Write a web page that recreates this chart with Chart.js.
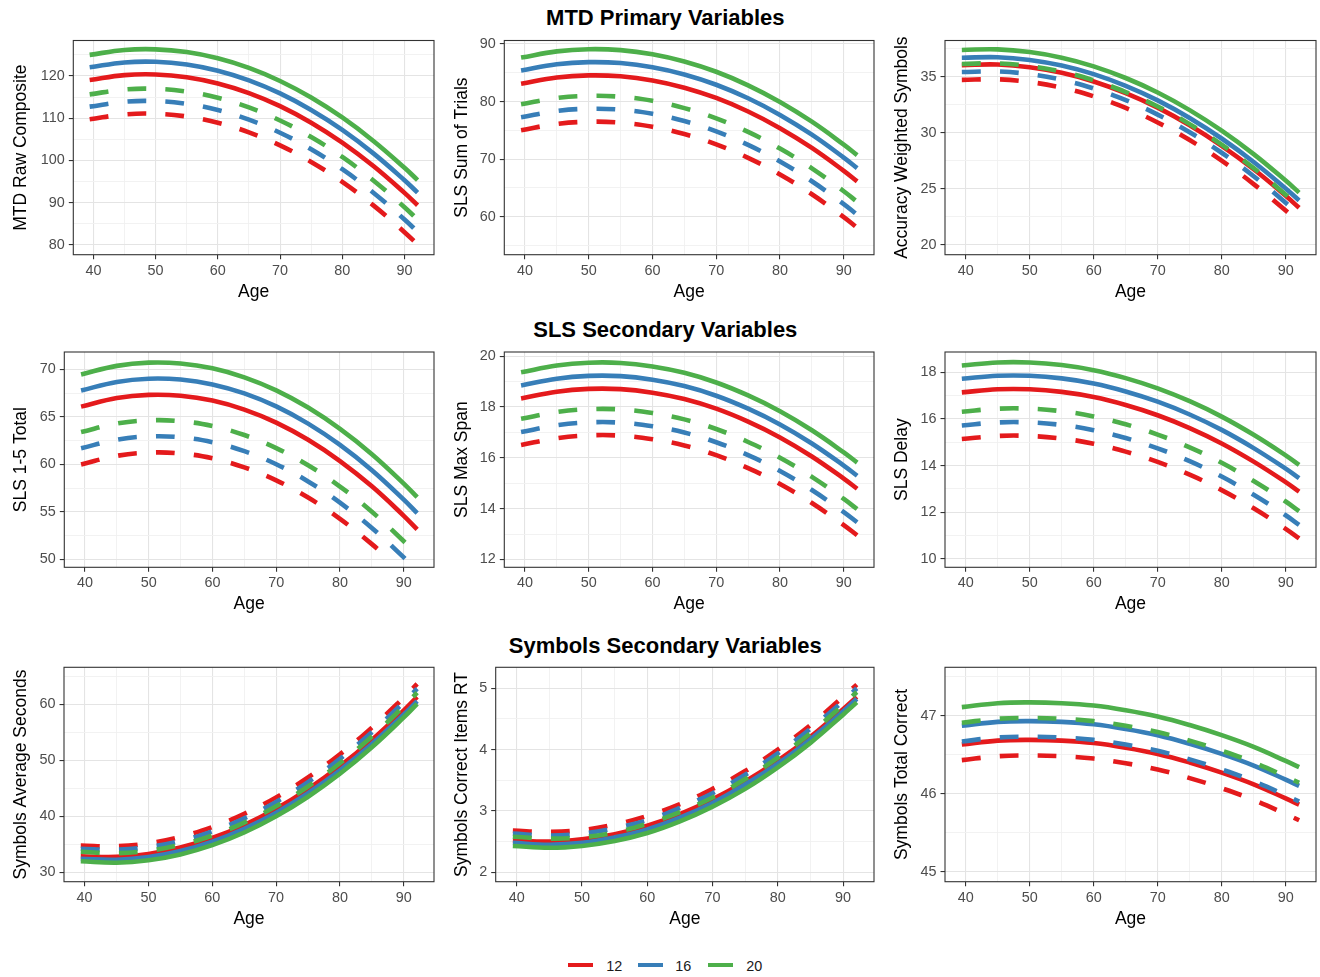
<!DOCTYPE html>
<html>
<head>
<meta charset="utf-8">
<script src="https://cdn.jsdelivr.net/npm/chart.js@4.4.1/dist/chart.umd.min.js"></script>
<style>
html,body{margin:0;padding:0;background:#fff;}
body{width:1320px;height:977px;position:relative;overflow:hidden;font-family:"Liberation Sans",Arial,Helvetica,sans-serif;}
canvas{position:absolute;}
.rowtitle{position:absolute;left:665.3px;transform:translate(-50%,-50%);white-space:nowrap;font-weight:bold;font-size:22px;line-height:22px;color:#000;}
.lkey{position:absolute;height:4.4px;width:25.6px;}
.ltxt{position:absolute;font-size:14.4px;line-height:14.4px;color:#1a1a1a;transform:translateY(-50%);white-space:nowrap;}
</style>
</head>
<body>
<div class="rowtitle" style="top:18.4px">MTD Primary Variables</div>
<div class="rowtitle" style="top:330.4px">SLS Secondary Variables</div>
<div class="rowtitle" style="top:645.7px">Symbols Secondary Variables</div>

<div class="lkey" style="left:567.7px;top:962.5px;background:#E41A1C"></div>
<div class="ltxt" style="left:606.2px;top:965.8px">12</div>
<div class="lkey" style="left:637.7px;top:962.5px;background:#377EB8"></div>
<div class="ltxt" style="left:675.2px;top:965.8px">16</div>
<div class="lkey" style="left:707.7px;top:962.5px;background:#4DAF4A"></div>
<div class="ltxt" style="left:746.2px;top:965.8px">20</div>

<script>
// ---------------- DATA ----------------
const AGES = [39.4, 45, 50, 55, 60, 65, 70, 75, 80, 85, 90, 92.1];
const X_TICKS = [40, 50, 60, 70, 80, 90];
const EDU_GROUPS = ['12', '16', '20'];

// MTD Raw Composite
const MTD_Y_TICKS = [80, 90, 100, 110, 120];
const MTD_12 = [119.05, 120.2, 120.36, 119.71, 118.24, 115.96, 112.87, 108.95, 104.23, 98.68, 92.33, 89.41];
const MTD_16 = [122.05, 123.2, 123.36, 122.71, 121.24, 118.96, 115.87, 111.95, 107.23, 101.68, 95.33, 92.41];
const MTD_20 = [125.0, 126.15, 126.31, 125.66, 124.19, 121.91, 118.82, 114.9, 110.18, 104.63, 98.28, 95.36];
const MTD_12_D = [109.75, 110.9, 111.06, 110.41, 108.94, 106.66, 103.57, 99.65, 94.93, 89.38, 83.03, 80.11];
const MTD_16_D = [112.75, 113.9, 114.06, 113.41, 111.94, 109.66, 106.57, 102.65, 97.93, 92.38, 86.03, 83.11];
const MTD_20_D = [115.65, 116.8, 116.96, 116.31, 114.84, 112.56, 109.47, 105.55, 100.83, 95.28, 88.93, 86.01];

// SLS Sum of Trials
const SUM_Y_TICKS = [60, 70, 80, 90];
const SUM_12 = [83.08, 84.16, 84.54, 84.38, 83.67, 82.41, 80.62, 78.27, 75.38, 71.95, 67.97, 66.14];
const SUM_16 = [85.38, 86.46, 86.84, 86.68, 85.97, 84.71, 82.92, 80.57, 77.68, 74.25, 70.27, 68.44];
const SUM_20 = [87.63, 88.71, 89.09, 88.93, 88.22, 86.96, 85.17, 82.82, 79.93, 76.5, 72.52, 70.69];
const SUM_12_D = [75.03, 76.11, 76.49, 76.33, 75.62, 74.36, 72.57, 70.22, 67.33, 63.9, 59.92, 58.09];
const SUM_16_D = [77.28, 78.36, 78.74, 78.58, 77.87, 76.61, 74.82, 72.47, 69.58, 66.15, 62.17, 60.34];
const SUM_20_D = [79.53, 80.61, 80.99, 80.83, 80.12, 78.86, 77.07, 74.72, 71.83, 68.4, 64.42, 62.59];

// Accuracy Weighted Symbols
const ACC_Y_TICKS = [20, 25, 30, 35];
const ACC_12 = [36.03, 36.08, 35.84, 35.34, 34.57, 33.53, 32.24, 30.67, 28.84, 26.75, 24.39, 23.32];
const ACC_16 = [36.68, 36.73, 36.49, 35.99, 35.22, 34.18, 32.89, 31.32, 29.49, 27.4, 25.04, 23.97];
const ACC_20 = [37.38, 37.43, 37.19, 36.69, 35.92, 34.88, 33.59, 32.02, 30.19, 28.1, 25.74, 24.67];
const ACC_12_D = [34.71, 34.76, 34.52, 34.02, 33.25, 32.21, 30.92, 29.35, 27.52, 25.43, 23.07, 22.0];
const ACC_16_D = [35.41, 35.46, 35.22, 34.72, 33.95, 32.91, 31.62, 30.05, 28.22, 26.13, 23.77, 22.7];
const ACC_20_D = [36.13, 36.18, 35.94, 35.44, 34.67, 33.63, 32.34, 30.77, 28.94, 26.85, 24.49, 23.42];

// SLS 1-5 Total (dashed 12 and 16 end where they leave the axis limit at 50)
const TOT_Y_TICKS = [50, 55, 60, 65, 70];
const TOT_12 = [66.07, 66.97, 67.31, 67.22, 66.71, 65.76, 64.39, 62.58, 60.34, 57.68, 54.58, 53.15];
const TOT_16 = [67.77, 68.67, 69.01, 68.92, 68.41, 67.46, 66.09, 64.28, 62.04, 59.38, 56.28, 54.85];
const TOT_20 = [69.46, 70.36, 70.7, 70.61, 70.1, 69.15, 67.78, 65.97, 63.73, 61.07, 57.97, 56.54];
const TOT_12_D_AGES = [39.4, 45, 50, 55, 60, 65, 70, 75, 80, 85, 87.7];
const TOT_12_D = [59.99, 60.89, 61.23, 61.14, 60.63, 59.68, 58.31, 56.5, 54.26, 51.6, 50.0];
const TOT_16_D_AGES = [39.4, 45, 50, 55, 60, 65, 70, 75, 80, 85, 90, 90.3];
const TOT_16_D = [61.69, 62.59, 62.93, 62.84, 62.33, 61.38, 60.01, 58.2, 55.96, 53.3, 50.2, 50.0];
const TOT_20_D = [63.39, 64.29, 64.63, 64.54, 64.03, 63.08, 61.71, 59.9, 57.66, 55.0, 51.9, 50.47];

// SLS Max Span
const SPAN_Y_TICKS = [12, 14, 16, 18, 20];
const SPAN_12 = [18.33, 18.6, 18.71, 18.7, 18.56, 18.31, 17.93, 17.42, 16.8, 16.05, 15.18, 14.78];
const SPAN_16 = [18.84, 19.11, 19.22, 19.21, 19.07, 18.82, 18.44, 17.93, 17.31, 16.56, 15.69, 15.29];
const SPAN_20 = [19.36, 19.63, 19.74, 19.73, 19.59, 19.34, 18.96, 18.45, 17.83, 17.08, 16.21, 15.81];
const SPAN_12_D = [16.5, 16.77, 16.88, 16.87, 16.73, 16.48, 16.1, 15.59, 14.97, 14.22, 13.35, 12.95];
const SPAN_16_D = [17.01, 17.28, 17.39, 17.38, 17.24, 16.99, 16.61, 16.1, 15.48, 14.73, 13.86, 13.46];
const SPAN_20_D = [17.53, 17.8, 17.91, 17.9, 17.76, 17.51, 17.13, 16.62, 16.0, 15.25, 14.38, 13.98];

// SLS Delay
const DELAY_Y_TICKS = [10, 12, 14, 16, 18];
const DELAY_12 = [17.14, 17.27, 17.27, 17.16, 16.94, 16.6, 16.16, 15.61, 14.95, 14.17, 13.29, 12.88];
const DELAY_16 = [17.72, 17.85, 17.85, 17.74, 17.52, 17.18, 16.74, 16.19, 15.53, 14.75, 13.87, 13.46];
const DELAY_20 = [18.29, 18.42, 18.42, 18.31, 18.09, 17.75, 17.31, 16.76, 16.1, 15.32, 14.44, 14.03];
const DELAY_12_D = [15.14, 15.27, 15.27, 15.16, 14.94, 14.6, 14.16, 13.61, 12.95, 12.17, 11.29, 10.88];
const DELAY_16_D = [15.72, 15.85, 15.85, 15.74, 15.52, 15.18, 14.74, 14.19, 13.53, 12.75, 11.87, 11.46];
const DELAY_20_D = [16.31, 16.44, 16.44, 16.33, 16.11, 15.77, 15.33, 14.78, 14.12, 13.34, 12.46, 12.05];

// Symbols Average Seconds
const AVG_Y_TICKS = [30, 40, 50, 60];
const AVG_12 = [32.85, 32.75, 33.28, 34.41, 36.13, 38.45, 41.35, 44.86, 48.95, 53.64, 58.92, 61.32];
const AVG_16 = [32.4, 32.23, 32.71, 33.79, 35.47, 37.76, 40.64, 44.13, 48.21, 52.9, 58.19, 60.59];
const AVG_20 = [31.96, 31.71, 32.14, 33.19, 34.84, 37.11, 40.0, 43.49, 47.6, 52.33, 57.66, 60.09];
const AVG_12_D = [34.76, 34.65, 35.19, 36.33, 38.08, 40.43, 43.38, 46.93, 51.08, 55.84, 61.2, 63.63];
const AVG_16_D = [34.21, 34.03, 34.52, 35.61, 37.32, 39.64, 42.57, 46.11, 50.25, 55.01, 60.38, 62.82];
const AVG_20_D = [33.66, 33.41, 33.85, 34.9, 36.57, 38.87, 41.78, 45.32, 49.47, 54.24, 59.64, 62.09];

// Symbols Correct Items RT
const RT_Y_TICKS = [2, 3, 4, 5];
const RT_12 = [2.52, 2.50, 2.54, 2.62, 2.76, 2.95, 3.19, 3.48, 3.82, 4.21, 4.66, 4.86];
const RT_16 = [2.48, 2.45, 2.48, 2.57, 2.70, 2.89, 3.13, 3.43, 3.77, 4.17, 4.62, 4.83];
const RT_20 = [2.43, 2.40, 2.43, 2.51, 2.64, 2.83, 3.07, 3.36, 3.71, 4.11, 4.57, 4.77];
const RT_12_D = [2.68, 2.66, 2.69, 2.78, 2.92, 3.11, 3.36, 3.65, 4.0, 4.40, 4.86, 5.06];
const RT_16_D = [2.63, 2.60, 2.63, 2.72, 2.85, 3.05, 3.29, 3.59, 3.94, 4.34, 4.79, 5.0];
const RT_20_D = [2.58, 2.55, 2.57, 2.65, 2.79, 2.98, 3.22, 3.52, 3.87, 4.27, 4.73, 4.94];

// Symbols Total Correct
const TC_Y_TICKS = [45, 46, 47];
const TC_12 = [46.63, 46.68, 46.69, 46.68, 46.65, 46.59, 46.51, 46.4, 46.27, 46.12, 45.94, 45.86];
const TC_16 = [46.87, 46.92, 46.93, 46.92, 46.89, 46.83, 46.75, 46.64, 46.51, 46.36, 46.18, 46.1];
const TC_20 = [47.11, 47.16, 47.17, 47.16, 47.13, 47.07, 46.99, 46.88, 46.75, 46.6, 46.42, 46.34];
const TC_12_D = [46.43, 46.48, 46.49, 46.48, 46.45, 46.39, 46.31, 46.2, 46.07, 45.92, 45.74, 45.66];
const TC_16_D = [46.67, 46.72, 46.73, 46.72, 46.69, 46.63, 46.55, 46.44, 46.31, 46.16, 45.98, 45.9];
const TC_20_D = [46.91, 46.96, 46.97, 46.96, 46.93, 46.87, 46.79, 46.68, 46.55, 46.4, 46.22, 46.14];

// ---------------- STYLE / LAYOUT ----------------
const COLORS = {'12': '#E41A1C', '16': '#377EB8', '20': '#4DAF4A'};
const X_MIN = 36.77, X_MAX = 94.74;
const FONT = '"Liberation Sans", Arial, Helvetica, sans-serif';
Chart.defaults.font.family = FONT;

const PANELS = [
  {label: 'MTD Raw Composite', yTicks: MTD_Y_TICKS, yMin: 77.7, yMax: 128.4, box: [73.3, 40.5, 434, 254.7], titleX: 21.5,
   solid: {'12': MTD_12, '16': MTD_16, '20': MTD_20}, dashed: {'12': MTD_12_D, '16': MTD_16_D, '20': MTD_20_D}},
  {label: 'SLS Sum of Trials', yTicks: SUM_Y_TICKS, yMin: 53.4, yMax: 90.6, box: [504.3, 40.5, 874, 254.7], titleX: 462,
   solid: {'12': SUM_12, '16': SUM_16, '20': SUM_20}, dashed: {'12': SUM_12_D, '16': SUM_16_D, '20': SUM_20_D}},
  {label: 'Accuracy Weighted Symbols', yTicks: ACC_Y_TICKS, yMin: 19.14, yMax: 38.22, box: [945, 40.5, 1316, 254.7], titleX: 902,
   solid: {'12': ACC_12, '16': ACC_16, '20': ACC_20}, dashed: {'12': ACC_12_D, '16': ACC_16_D, '20': ACC_20_D}},
  {label: 'SLS 1-5 Total', yTicks: TOT_Y_TICKS, yMin: 49.16, yMax: 71.82, box: [64.3, 352, 434, 567.3], titleX: 21.5,
   solid: {'12': TOT_12, '16': TOT_16, '20': TOT_20}, dashed: {'12': TOT_12_D, '16': TOT_16_D, '20': TOT_20_D},
   dashedAges: {'12': TOT_12_D_AGES, '16': TOT_16_D_AGES}},
  {label: 'SLS Max Span', yTicks: SPAN_Y_TICKS, yMin: 11.69, yMax: 20.16, box: [504.3, 352, 874, 567.3], titleX: 462,
   solid: {'12': SPAN_12, '16': SPAN_16, '20': SPAN_20}, dashed: {'12': SPAN_12_D, '16': SPAN_16_D, '20': SPAN_20_D}},
  {label: 'SLS Delay', yTicks: DELAY_Y_TICKS, yMin: 9.64, yMax: 18.87, box: [945, 352, 1316, 567.3], titleX: 902,
   solid: {'12': DELAY_12, '16': DELAY_16, '20': DELAY_20}, dashed: {'12': DELAY_12_D, '16': DELAY_16_D, '20': DELAY_20_D}},
  {label: 'Symbols Average Seconds', yTicks: AVG_Y_TICKS, yMin: 28.32, yMax: 66.61, box: [64, 667.3, 434, 881.7], titleX: 21.5,
   solid: {'12': AVG_12, '16': AVG_16, '20': AVG_20}, dashed: {'12': AVG_12_D, '16': AVG_16_D, '20': AVG_20_D}},
  {label: 'Symbols Correct Items RT', yTicks: RT_Y_TICKS, yMin: 1.847, yMax: 5.342, box: [495.7, 667.3, 874, 881.7], titleX: 462,
   solid: {'12': RT_12, '16': RT_16, '20': RT_20}, dashed: {'12': RT_12_D, '16': RT_16_D, '20': RT_20_D}},
  {label: 'Symbols Total Correct', yTicks: TC_Y_TICKS, yMin: 44.872, yMax: 47.62, box: [945, 667.3, 1316, 881.7], titleX: 902,
   solid: {'12': TC_12, '16': TC_16, '20': TC_20}, dashed: {'12': TC_12_D, '16': TC_16_D, '20': TC_20_D}}
];

function withMinor(major, min, max) {
  const step = major[1] - major[0];
  const out = [];
  for (let k = 0; k < 200; k++) {
    const v = Math.round((major[0] - step / 2 + k * step / 2) * 10000) / 10000;
    if (v > max) break;
    if (v >= min) out.push(v);
  }
  return out;
}

function gridFor(major) {
  const isMajor = c => c.tick && major.some(m => Math.abs(m - c.tick.value) < 1e-6);
  return {
    drawOnChartArea: true, drawTicks: true,
    color: c => isMajor(c) ? '#E4E4E4' : '#F0F0F0',
    lineWidth: c => isMajor(c) ? 1.1 : 0.9,
    tickColor: c => isMajor(c) ? '#333333' : 'rgba(0,0,0,0)',
    tickLength: 4.5, tickWidth: 1.1
  };
}

const panelDecor = {
  id: 'panelDecor',
  afterDraw(chart, args, opts) {
    const {ctx, chartArea: a} = chart;
    ctx.save();
    ctx.strokeStyle = '#333333';
    ctx.lineWidth = 1.1;
    ctx.strokeRect(a.left, a.top, a.right - a.left, a.bottom - a.top);
    ctx.fillStyle = '#000000';
    ctx.font = '17.5px ' + FONT;
    ctx.textAlign = 'center';
    ctx.textBaseline = 'middle';
    ctx.translate(opts.titleX, (a.top + a.bottom) / 2);
    ctx.rotate(-Math.PI / 2);
    ctx.fillText(opts.text, 0, 0);
    ctx.restore();
  }
};

function buildDatasets(p) {
  const order = [['dashed', '20'], ['dashed', '16'], ['dashed', '12'], ['solid', '20'], ['solid', '16'], ['solid', '12']];
  return order.map(([kind, edu]) => {
    const vals = p[kind][edu];
    const ages = (kind === 'dashed' && p.dashedAges && p.dashedAges[edu]) || AGES;
    return {
      label: edu + (kind === 'dashed' ? ' (dashed)' : ''),
      data: vals.map((v, i) => ({x: ages[i], y: v})),
      borderColor: COLORS[edu],
      borderWidth: 4.6,
      borderDash: kind === 'dashed' ? [19, 19] : [],
      borderCapStyle: 'butt',
      borderJoinStyle: 'round',
      pointRadius: 0,
      pointHoverRadius: 0,
      tension: 0.4,
      fill: false
    };
  });
}

PANELS.forEach(p => {
  const [L, T, R, B] = p.box;
  const cLeft = Math.round(p.titleX - 11);
  const cTop = Math.round(T - 16);
  const cRight = Math.round(R + 4);
  const cBottom = Math.round(B + 48);
  const W = cRight - cLeft, H = cBottom - cTop;
  const canvas = document.createElement('canvas');
  canvas.width = W; canvas.height = H;
  canvas.style.left = cLeft + 'px'; canvas.style.top = cTop + 'px';
  canvas.style.width = W + 'px'; canvas.style.height = H + 'px';
  document.body.appendChild(canvas);
  const yW = L - cLeft, xH = cBottom - B;
  const xVals = withMinor(X_TICKS, X_MIN, X_MAX);
  const yVals = withMinor(p.yTicks, p.yMin, p.yMax);
  new Chart(canvas, {
    type: 'line',
    data: {datasets: buildDatasets(p)},
    options: {
      responsive: false, animation: false, devicePixelRatio: 1, events: [],
      layout: {padding: {top: T - cTop, right: cRight - R, left: 0, bottom: 0}},
      plugins: {legend: {display: false}, tooltip: {enabled: false},
                panelDecor: {titleX: p.titleX - cLeft, text: p.label}},
      scales: {
        x: {
          type: 'linear', min: X_MIN, max: X_MAX,
          afterBuildTicks: s => { s.ticks = xVals.map(v => ({value: v})); },
          afterFit: s => { s.height = xH; },
          border: {display: false},
          grid: gridFor(X_TICKS),
          ticks: {autoSkip: false, maxRotation: 0, minRotation: 0, padding: 3, color: '#4D4D4D',
                  font: {size: 14.4, lineHeight: 1.2},
                  callback: v => X_TICKS.includes(v) ? String(v) : ''},
          title: {display: true, text: 'Age', color: '#000000', font: {size: 17.5, lineHeight: 1.2}, padding: {top: 0, bottom: 0}}
        },
        y: {
          type: 'linear', min: p.yMin, max: p.yMax,
          afterBuildTicks: s => { s.ticks = yVals.map(v => ({value: v})); },
          afterFit: s => { s.width = yW; },
          border: {display: false},
          grid: gridFor(p.yTicks),
          ticks: {autoSkip: false, padding: 4, color: '#4D4D4D', font: {size: 14.4, lineHeight: 1.2},
                  callback: v => p.yTicks.includes(v) ? String(v) : ''}
        }
      }
    },
    plugins: [panelDecor]
  });
});
</script>
</body>
</html>
